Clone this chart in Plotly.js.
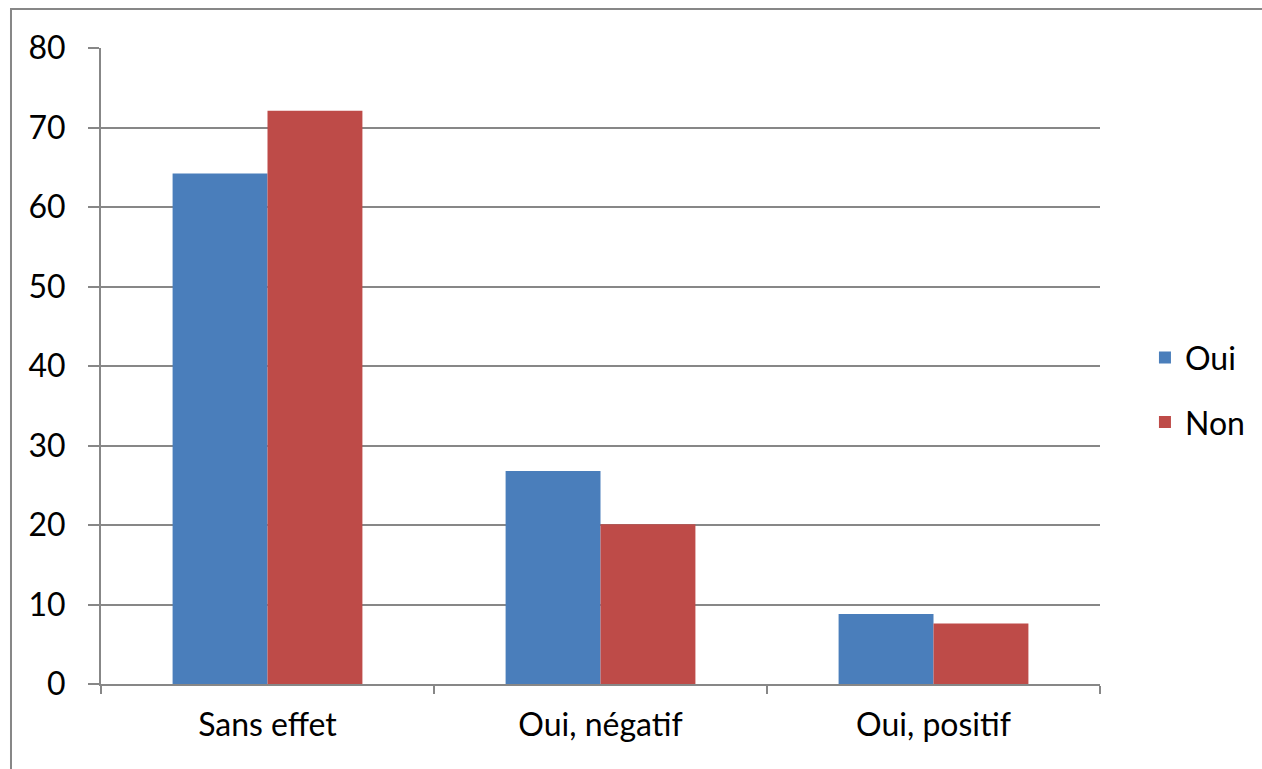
<!DOCTYPE html>
<html>
<head>
<meta charset="utf-8">
<script src="https://cdn.plot.ly/plotly-3.0.1.min.js"></script>
<style>html,body{margin:0;padding:0;background:#fff;}#chart{width:1262px;height:769px;}</style>
</head>
<body>
<div id="chart"></div>
<script>
const categories = ["Sans effet", "Oui, négatif", "Oui, positif"];
const seriesNames = ["Oui", "Non"];
const ouiValues = [64.2, 26.8, 8.8];
const nonValues = [72.1, 20.1, 7.6];
const yTickValues = [0, 10, 20, 30, 40, 50, 60, 70, 80];

const FONT = "Lato, 'Open Sans', sans-serif";
const GRAY = "#878787";
const FS = 32;

const traces = [
  {type: "bar", name: seriesNames[0], legendgroup: "g1", x: categories, y: ouiValues, marker: {color: "#4A7EBB"}},
  {type: "bar", name: seriesNames[1], legendgroup: "g2", x: categories, y: nonValues, marker: {color: "#BE4B48"}}
];

const layout = {
  width: 1262, height: 769,
  margin: {l: 101, r: 162, t: 48, b: 85, pad: 0},
  paper_bgcolor: "#fff", plot_bgcolor: "#fff",
  barmode: "group", bargap: 0.43, bargroupgap: 0,
  font: {family: FONT, size: FS, color: "#000"},
  showlegend: true,
  legend: {x: 1.045, y: 0.462, xanchor: "left", yanchor: "middle", font: {family: FONT, size: FS, color: "#000"}, tracegroupgap: 20, itemwidth: 30, bgcolor: "rgba(0,0,0,0)"},
  xaxis: {
    type: "category", showgrid: false, showline: true, linecolor: GRAY, linewidth: 2,
    ticks: "outside", tickson: "boundaries", ticklen: 8, tickwidth: 2, tickcolor: GRAY,
    tickfont: {family: FONT, size: FS, color: "#000"}, ticklabelstandoff: 12, zeroline: false, fixedrange: true
  },
  yaxis: {
    range: [0, 80], tickvals: yTickValues, showgrid: true, gridcolor: GRAY, gridwidth: 2,
    showline: true, linecolor: GRAY, linewidth: 2, zeroline: false,
    ticks: "outside", ticklen: 11, tickwidth: 2, tickcolor: GRAY,
    tickfont: {family: FONT, size: FS, color: "#000"}, ticklabelstandoff: 16, fixedrange: true
  },
  shapes: [
    {type: "rect", xref: "paper", yref: "paper", x0: -0.0901, x1: 1.2, y0: -0.2, y1: 1.0613, line: {color: GRAY, width: 2}, fillcolor: "rgba(0,0,0,0)", layer: "below"}
  ]
};

Plotly.newPlot("chart", traces, layout, {displayModeBar: false, staticPlot: true});
</script>
</body>
</html>
